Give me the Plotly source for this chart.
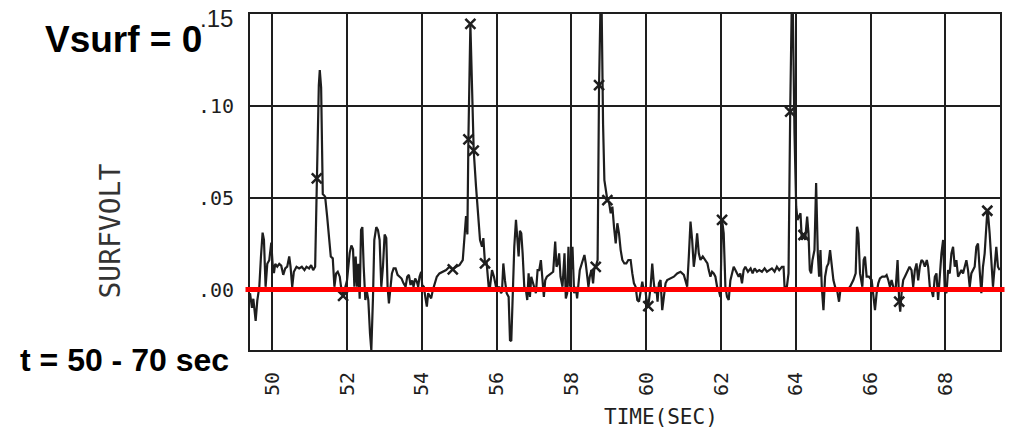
import plotly.graph_objects as go

# Surface voltage record, (time [s], SURFVOLT) pairs split by time window
seg_49_52 = [
    (49.405, -0.002), (49.458, -0.010), (49.494, -0.005), (49.556, -0.017), (49.600, -0.006),
    (49.654, 0.0015), (49.698, 0.018), (49.742, 0.031), (49.778, 0.027), (49.822, 0.0015),
    (49.867, 0.014), (49.920, 0.016), (49.974, 0.0255), (50.009, 0.014), (50.045, 0.009),
    (50.080, 0.014), (50.134, 0.0125), (50.187, 0.014), (50.240, 0.013), (50.294, 0.008),
    (50.347, 0.0115), (50.400, 0.0125), (50.454, 0.018), (50.489, 0.0125), (50.534, 0.0015),
    (50.578, 0.0097), (50.649, 0.0124), (50.720, 0.0115), (50.791, 0.0124), (50.862, 0.0106),
    (50.916, 0.0124), (50.987, 0.0115), (51.040, 0.0133), (51.094, 0.0106), (51.147, 0.0124),
    (51.245, 0.111), (51.271, 0.1195), (51.307, 0.110), (51.351, 0.052), (51.414, 0.0506),
    (51.467, 0.040), (51.520, 0.027), (51.565, 0.018), (51.618, 0.017), (51.662, 0.0015),
    (51.707, 0.0088), (51.751, 0.0097), (51.805, 0.007), (51.840, 0.0015), (51.947, 0.0015),
]
seg_52_54 = [
    (52.000, 0.005), (52.071, 0.020), (52.116, 0.024), (52.160, 0.022), (52.196, 0.0015),
    (52.231, 0.018), (52.267, 0.0015), (52.302, 0.014), (52.338, -0.005), (52.374, 0.0324),
    (52.409, 0.034), (52.445, 0.0124), (52.489, -0.0057), (52.525, -0.0003), (52.569, -0.0057),
    (52.614, -0.024), (52.649, -0.033), (52.694, -0.004), (52.729, 0.027), (52.782, 0.034),
    (52.827, 0.0324), (52.871, 0.027), (52.916, 0.0015), (52.960, 0.0124), (53.005, 0.030),
    (53.049, 0.028), (53.084, 0.0015), (53.120, -0.0075), (53.156, 0.0015), (53.200, 0.0088),
    (53.245, 0.0115), (53.298, 0.0115), (53.351, 0.008), (53.405, 0.007), (53.458, 0.006),
    (53.511, 0.0034), (53.565, 0.0015), (53.609, 0.007), (53.654, 0.008), (53.698, 0.0025),
    (53.742, 0.005), (53.778, 0.0015), (53.822, 0.006), (53.867, 0.0043), (53.902, 0.0015),
    (53.938, 0.007), (53.982, 0.0097),
]
seg_54_56 = [
    (54.009, 0.0025), (54.054, 0.0015), (54.098, -0.0048), (54.134, -0.0093), (54.169, -0.002),
    (54.205, -0.003), (54.249, -0.0048), (54.294, -0.0003), (54.347, 0.0034), (54.400, 0.007),
    (54.471, 0.0088), (54.560, 0.0097), (54.649, 0.0106), (54.738, 0.0124), (54.916, 0.0124),
    (55.005, 0.0133), (55.094, 0.016), (55.147, 0.028), (55.182, 0.040), (55.218, 0.030),
    (55.449, 0.056), (55.503, 0.0415), (55.556, 0.027), (55.609, 0.0233), (55.645, 0.028),
    (55.734, 0.0142), (55.787, 0.0015), (55.823, 0.0015), (55.876, 0.0106), (55.929, 0.007),
    (55.982, 0.0015),
]
seg_56_58 = [
    (56.028, 0.0006), (56.072, 0.0015), (56.117, -0.002), (56.143, -0.0012), (56.179, 0.0142),
    (56.223, 0.005), (56.268, -0.002), (56.321, -0.004), (56.357, -0.0275), (56.392, -0.028),
    (56.428, 0.0015), (56.472, 0.0233), (56.517, 0.038), (56.561, 0.027), (56.588, 0.018),
    (56.623, 0.032), (56.659, 0.0306), (56.695, 0.0197), (56.739, 0.0015), (56.783, -0.0003),
    (56.819, -0.0057), (56.855, 0.0088), (56.890, -0.004), (56.926, 0.007), (56.961, 0.0043),
    (57.006, 0.0015), (57.050, -0.002), (57.095, 0.0106), (57.139, 0.0106), (57.183, 0.016),
    (57.228, 0.007), (57.263, -0.004), (57.299, 0.005), (57.343, 0.007), (57.406, 0.008),
    (57.459, 0.009), (57.512, 0.0097), (57.566, 0.0261), (57.601, 0.0124), (57.637, 0.0142),
    (57.672, 0.0197), (57.708, 0.007), (57.761, 0.0015), (57.815, 0.0197), (57.850, -0.0048),
    (57.886, -0.002), (57.921, 0.0233), (57.957, 0.0015), (57.983, 0.0124),
]
seg_58_60 = [
    (58.028, 0.0233), (58.072, -0.002), (58.117, 0.0015), (58.152, -0.0048), (58.188, 0.0015),
    (58.223, 0.0106), (58.277, 0.0142), (58.312, 0.016), (58.348, 0.0188), (58.383, 0.0142),
    (58.419, 0.007), (58.455, 0.0015), (58.490, 0.007), (58.535, 0.0106), (58.579, 0.0034),
    (58.610, 0.0110), (58.700, 0.0161), (58.795, 0.175), (58.846, 0.090), (58.881, 0.0596),
    (59.010, 0.0470), (59.050, 0.0415), (59.095, 0.0451), (59.139, 0.034), (59.184, 0.0251),
    (59.228, 0.0361), (59.272, 0.0306), (59.317, 0.0215), (59.361, 0.0161), (59.415, 0.0142),
    (59.468, 0.0142), (59.521, 0.0161), (59.583, 0.0161), (59.628, 0.0088), (59.672, 0.0034),
    (59.717, 0.0015), (59.761, -0.0057), (59.806, -0.0066), (59.850, -0.0003), (59.895, 0.0043),
    (59.930, -0.0003), (59.966, 0.0015),
]
seg_60_62 = [
    (60.010, -0.0057), (60.117, 0.0015), (60.161, 0.0142), (60.197, 0.005), (60.232, -0.002),
    (60.268, 0.0015), (60.303, -0.0066), (60.339, 0.0034), (60.383, 0.0052), (60.428, -0.0112),
    (60.472, -0.002), (60.517, 0.0034), (60.561, 0.0052), (60.650, 0.0061), (60.739, 0.007),
    (60.828, 0.0088), (60.917, 0.0097), (61.006, 0.008), (61.095, 0.0015), (61.139, 0.018),
    (61.184, 0.037), (61.228, 0.027), (61.272, 0.0124), (61.317, 0.0197), (61.361, 0.0306),
    (61.406, 0.0197), (61.450, 0.0161), (61.512, 0.018), (61.583, 0.0161), (61.637, 0.0142),
    (61.672, 0.0106), (61.717, 0.007), (61.761, 0.0097), (61.806, 0.0088), (61.850, 0.007),
    (61.895, 0.0015), (61.939, -0.0003), (61.983, -0.004),
]
seg_62_64 = [
    (62.072, 0.0306), (62.117, 0.0015), (62.161, -0.004), (62.206, -0.0057), (62.250, 0.005),
    (62.295, 0.0088), (62.339, 0.0124), (62.384, 0.0106), (62.472, 0.007), (62.516, 0.0088),
    (62.561, 0.0034), (62.605, 0.0106), (62.650, 0.0124), (62.721, 0.0097), (62.792, 0.0115),
    (62.845, 0.0088), (62.899, 0.0115), (62.961, 0.0097), (63.023, 0.0106), (63.094, 0.0097),
    (63.165, 0.0115), (63.228, 0.0097), (63.290, 0.0106), (63.361, 0.0115), (63.432, 0.0097),
    (63.494, 0.0124), (63.556, 0.0106), (63.628, 0.0124), (63.672, 0.0124), (63.699, 0.0015),
    (63.761, 0.0015), (63.805, 0.0088), (63.868, 0.1358), (63.905, 0.175), (63.965, 0.085),
]
seg_64_66 = [
    (64.010, 0.0451), (64.045, 0.0379), (64.090, 0.0397), (64.125, 0.0415), (64.161, 0.027),
    (64.250, 0.0270), (64.303, 0.0397), (64.339, 0.0306), (64.374, 0.0106), (64.410, 0.0088),
    (64.445, 0.016), (64.499, 0.0215), (64.543, 0.058), (64.588, 0.0197), (64.623, 0.007),
    (64.659, 0.0215), (64.694, 0.0015), (64.739, -0.0112), (64.783, 0.007), (64.828, 0.0124),
    (64.872, 0.0142), (64.916, 0.0215), (64.961, 0.0124), (65.005, 0.0052), (65.050, 0.0015),
    (65.103, -0.0003), (65.156, -0.0066), (65.192, -0.0003), (65.228, -0.0003), (65.299, 0.0006),
    (65.361, -0.0003), (65.450, 0.0015), (65.539, 0.0052), (65.601, 0.0088), (65.637, 0.0342),
    (65.672, 0.0306), (65.717, 0.0088), (65.779, 0.0015), (65.814, 0.0161), (65.850, 0.0179),
    (65.894, 0.007), (65.956, 0.007),
]
seg_66_70 = [
    (66.028, 0.0052), (66.072, -0.004), (66.117, -0.0112), (66.161, -0.002), (66.205, 0.0034),
    (66.250, 0.0061), (66.312, 0.007), (66.383, 0.007), (66.428, 0.0079), (66.472, 0.0052),
    (66.517, 0.0015), (66.561, 0.0052), (66.605, 0.0015), (66.668, -0.0003), (66.721, 0.0161),
    (66.792, -0.012), (66.828, -0.002), (66.872, 0.0052), (66.916, 0.007), (66.988, 0.0106),
    (67.041, 0.0124), (67.094, 0.0106), (67.139, 0.0015), (67.183, 0.0106), (67.228, 0.0142),
    (67.272, 0.005), (67.316, 0.0124), (67.361, 0.0161), (67.405, 0.0152), (67.450, 0.0124),
    (67.503, 0.0161), (67.539, 0.0124), (67.583, 0.0015), (67.628, -0.0003), (67.672, -0.004),
    (67.717, 0.007), (67.761, 0.0088), (67.805, -0.0057), (67.850, 0.0088), (67.894, 0.0197),
    (67.939, 0.027), (67.983, -0.0003), (68.028, -0.002), (68.072, 0.0106), (68.116, 0.0088),
    (68.161, 0.0197), (68.205, 0.0233), (68.250, 0.0124), (68.294, 0.016), (68.339, 0.007),
    (68.383, 0.0088), (68.428, 0.0106), (68.472, 0.0088), (68.516, 0.0124), (68.561, 0.016),
    (68.605, 0.0106), (68.650, 0.0015), (68.694, 0.0088), (68.739, 0.0106), (68.783, 0.0124),
    (68.828, 0.0233), (68.872, 0.0251), (68.916, 0.0106), (68.961, -0.002), (69.005, 0.0124),
    (69.050, 0.0197), (69.139, 0.0415), (69.183, 0.0306), (69.228, 0.0124), (69.272, 0.0015),
    (69.317, 0.0124), (69.361, 0.0233), (69.405, 0.0124), (69.450, 0.0106),
]

# Samples flagged with a symbol on the curve
mark_t = [51.191, 51.894, 54.827, 55.245, 55.298, 55.387, 55.689, 58.650,
          58.739, 58.961, 60.055, 62.028, 63.850, 64.205, 66.765, 69.121]
mark_v = [0.0605, -0.0035, 0.011, 0.0818, 0.1446, 0.0756, 0.0142, 0.0124,
          0.1113, 0.0487, -0.009, 0.0379, 0.0968, 0.0297, -0.0066, 0.0429]

# Axis ticks
x_ticks = [50, 52, 54, 56, 58, 60, 62, 64, 66, 68]
y_ticks = [0.0, 0.05, 0.10]
y_tick_text = [".00", ".05", ".10"]
reference_level = 0.0

segments = [seg_49_52, seg_52_54, seg_54_56, seg_56_58, seg_58_60,
            seg_60_62, seg_62_64, seg_64_66, seg_66_70]
points = [p for seg in segments for p in seg] + list(zip(mark_t, mark_v))
points.sort(key=lambda p: p[0])
time_s = [p[0] for p in points]
surfvolt = [p[1] for p in points]

INK = "#1e1e1e"
MONO = "DejaVu Sans Mono, Liberation Mono, monospace"
SANS = "Liberation Sans, Arial, sans-serif"

fig = go.Figure()
fig.add_trace(go.Scatter(
    x=time_s, y=surfvolt, mode="lines",
    line=dict(color=INK, width=2.2), hoverinfo="skip", showlegend=False,
))
fig.add_trace(go.Scatter(
    x=mark_t, y=mark_v, mode="markers",
    marker=dict(symbol="x-thin", size=10, line=dict(color=INK, width=2.5)),
    showlegend=False, cliponaxis=False,
))

# Zero reference line drawn in red over the grid
fig.add_shape(type="line", xref="paper", yref="y",
              x0=-0.006, x1=1.006, y0=reference_level, y1=reference_level,
              line=dict(color="#ff0000", width=5), layer="above")

fig.update_layout(
    width=1011, height=431,
    margin=dict(l=250, r=9, t=14, b=81),
    paper_bgcolor="white", plot_bgcolor="white",
    xaxis=dict(
        range=[49.405, 69.46], tickvals=x_ticks, ticktext=[str(v) for v in x_ticks],
        tickangle=-90, tickfont=dict(family=MONO, size=20, color=INK),
        showgrid=True, gridcolor=INK, gridwidth=2, zeroline=False,
        showline=True, linecolor=INK, linewidth=2, mirror=True,
        ticks="", ticklabelstandoff=12,
    ),
    yaxis=dict(
        range=[-0.0329, 0.15], tickvals=y_ticks, ticktext=y_tick_text,
        tickfont=dict(family=MONO, size=20, color=INK),
        showgrid=True, gridcolor=INK, gridwidth=2, zeroline=False,
        showline=True, linecolor=INK, linewidth=2, mirror=True,
        ticks="", ticklabelstandoff=10,
    ),
    annotations=[
        dict(text="<b>Vsurf = 0</b>", xref="paper", yref="paper",
             x=-0.168, y=0.924, xanchor="center", yanchor="middle", showarrow=False,
             font=dict(family=SANS, size=37, color="black")),
        dict(text="<b>t = 50 - 70 sec</b>", xref="paper", yref="paper",
             x=-0.1676, y=-0.03, xanchor="center", yanchor="middle", showarrow=False,
             font=dict(family=SANS, size=32, color="black")),
        dict(text=".15", xref="paper", yref="paper",
             x=-0.02, y=0.988, xanchor="right", yanchor="middle", showarrow=False,
             font=dict(family=SANS, size=24, color=INK)),
        dict(text="SURFVOLT", xref="paper", yref="paper", textangle=-90,
             x=-0.186, y=0.354, xanchor="center", yanchor="middle", showarrow=False,
             font=dict(family=MONO, size=28, color="#333333")),
        dict(text="TIME(SEC)", xref="paper", yref="paper",
             x=0.548, y=-0.199, xanchor="center", yanchor="middle", showarrow=False,
             font=dict(family=MONO, size=21, color=INK)),
    ],
)

fig.write_html("out.html")
